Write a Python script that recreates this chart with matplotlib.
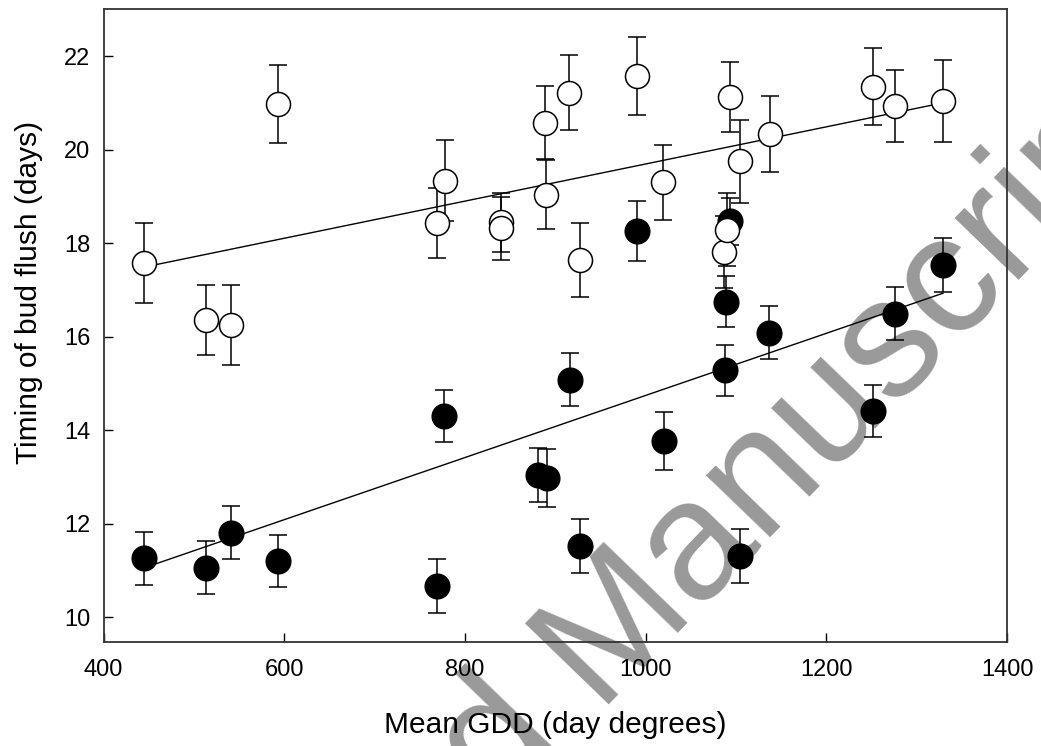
import matplotlib
matplotlib.use("Agg")
import matplotlib.pyplot as plt

# open circles
gdd_open = [445, 513, 541, 593, 769, 778, 840, 840, 889, 890, 915, 927,
            990, 1019, 1087, 1090, 1093, 1104, 1138, 1252, 1276, 1329]
flush_open = [17.58, 16.35, 16.25, 20.98, 18.43, 19.34, 18.45, 18.32, 20.58,
              19.04, 21.22, 17.65, 21.58, 19.30, 17.81, 18.29, 21.13, 19.75,
              20.33, 21.35, 20.93, 21.04]
se_open = [0.85, 0.75, 0.86, 0.83, 0.75, 0.86, 0.63, 0.67, 0.78, 0.74, 0.80,
           0.79, 0.83, 0.81, 0.77, 0.78, 0.75, 0.89, 0.81, 0.83, 0.77, 0.88]

# filled circles
gdd_filled = [445, 513, 541, 593, 769, 777, 881, 891, 916, 927, 990, 1020,
              1088, 1089, 1093, 1104, 1137, 1252, 1276, 1329]
flush_filled = [11.26, 11.06, 11.81, 11.20, 10.67, 14.30, 13.04, 12.98,
                15.08, 11.52, 18.27, 13.78, 15.28, 16.75, 18.47, 11.31,
                16.09, 14.41, 16.49, 17.54]
se_filled = [0.56, 0.57, 0.57, 0.56, 0.57, 0.56, 0.58, 0.62, 0.57, 0.58,
             0.64, 0.62, 0.55, 0.55, 0.50, 0.57, 0.57, 0.55, 0.57, 0.58]

# regression lines (end points)
fit_gdd = [445, 1329]
fit_open = [17.49, 21.0]
fit_filled = [11.06, 16.93]

xticks = [400, 600, 800, 1000, 1200, 1400]
yticks = [10, 12, 14, 16, 18, 20, 22]

plt.rcParams['font.family'] = ['Liberation Sans', 'DejaVu Sans']

fig = plt.figure(figsize=(10.41, 7.46), dpi=100)
ax = fig.add_axes([0.0995, 0.1398, 0.8679, 0.8477])
ax.patch.set_alpha(0)

# watermark, behind the data
wm_x, wm_y = 0.5716, 0.055
fig.text(wm_x, wm_y, "Manuscript", fontsize=122, color='#999999',
         rotation=46, rotation_mode='anchor', ha='left', va='baseline',
         zorder=-5)
fig.text(wm_x, wm_y, "Accepted ", fontsize=122, color='#999999',
         rotation=46, rotation_mode='anchor', ha='right', va='baseline',
         zorder=-5)

lw = 1.1
ax.plot(fit_gdd, fit_open, color='black', lw=1.0, zorder=2)
ax.plot(fit_gdd, fit_filled, color='black', lw=1.0, zorder=2)

ax.errorbar(gdd_filled, flush_filled, yerr=se_filled, fmt='none',
            ecolor='black', elinewidth=lw, capsize=6.7, capthick=lw, zorder=3)
ax.plot(gdd_filled, flush_filled, 'o', ms=17.8, mfc='black', mec='black',
        mew=1.0, zorder=4)
ax.errorbar(gdd_open, flush_open, yerr=se_open, fmt='none',
            ecolor='black', elinewidth=lw, capsize=6.7, capthick=lw, zorder=5)
ax.plot(gdd_open, flush_open, 'o', ms=17.3, mfc='white', mec='black',
        mew=1.1, zorder=6)

ax.set_xlim(400, 1400)
ax.set_ylim(9.48, 23.0)
ax.set_xticks(xticks)
ax.set_yticks(yticks)
ax.tick_params(direction='in', length=6.7, width=1.0, labelsize=17,
               top=False, right=False)
ax.tick_params(axis='x', pad=12.5)
ax.tick_params(axis='y', pad=9.5)
for s in ax.spines.values():
    s.set_linewidth(1.3)
    s.set_color('#333333')

ax.set_xlabel('Mean GDD (day degrees)', fontsize=21.5)
ax.set_ylabel('Timing of bud flush (days)', fontsize=21.5)
ax.xaxis.set_label_coords(0.5, -0.110)
ax.yaxis.set_label_coords(-0.0676, 0.553)

fig.savefig('out.png', dpi=100)
